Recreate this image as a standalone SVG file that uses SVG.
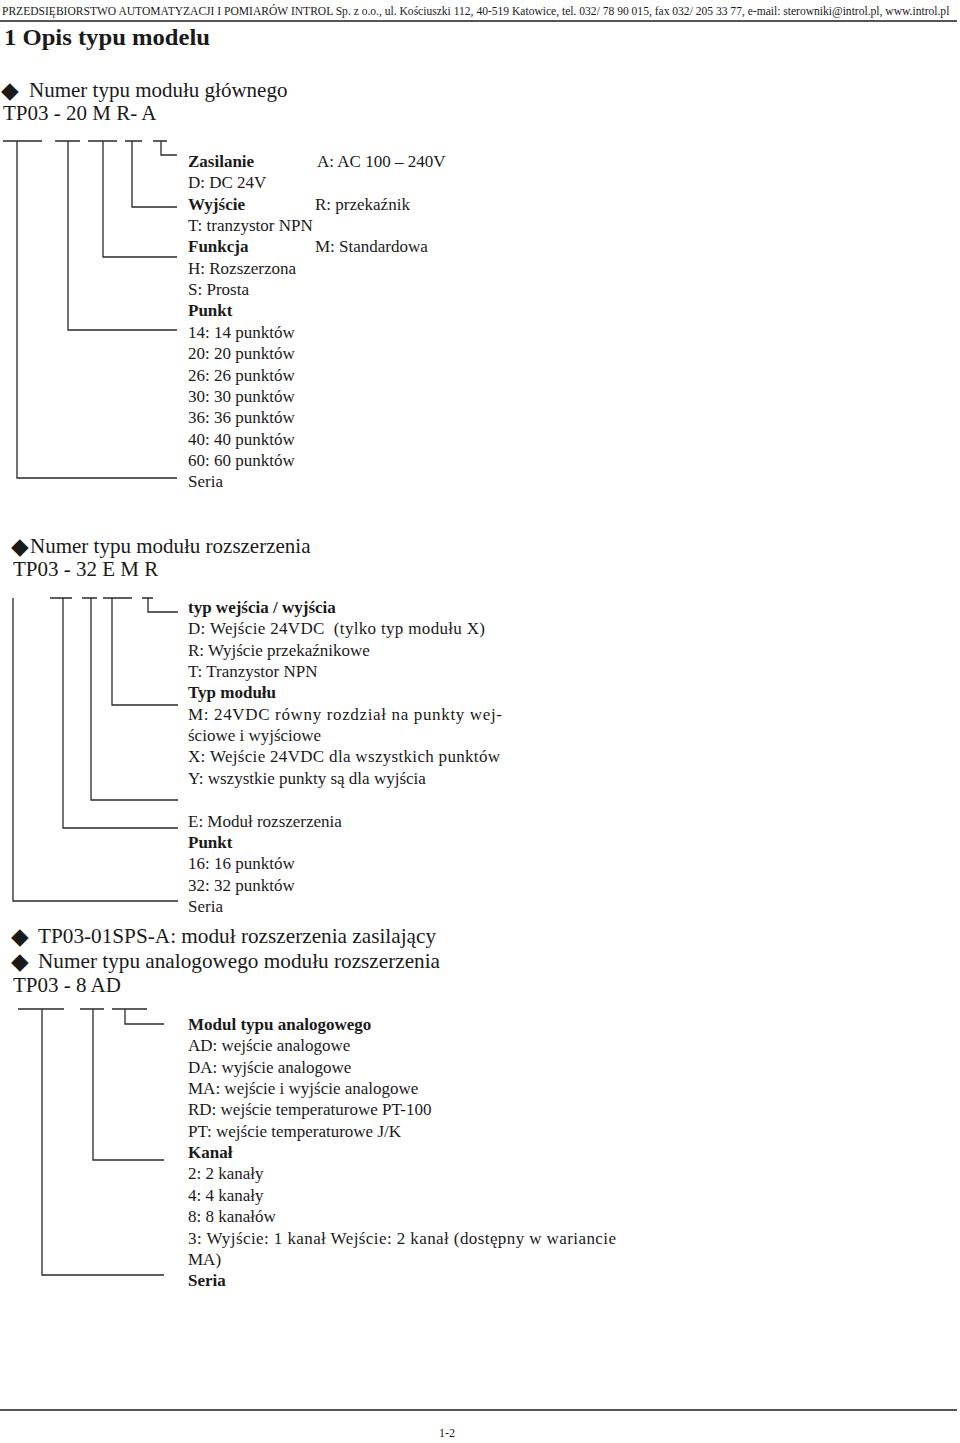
<svg xmlns="http://www.w3.org/2000/svg" width="960" height="1443" viewBox="0 0 960 1443">
<style>
text{font-family:"Liberation Serif","Times New Roman",serif;fill:#1a1a1a;}
.t{font-size:17px;}
.b{font-weight:bold;}
.h{font-size:21px;}
.hd{font-size:11.55px;}
.d{font-family:"DejaVu Sans",sans-serif;font-size:23px;}
.ln{stroke:#2a2a2a;stroke-width:1.3;fill:none;}
.rule{stroke:#555;stroke-width:2;}
</style>
<rect width="960" height="1443" fill="#fff"/>
<g id="header">
<text x="2" y="14.5" class="hd">PRZEDSIĘBIORSTWO AUTOMATYZACJI I POMIARÓW INTROL Sp. z o.o., ul. Kościuszki 112, 40-519 Katowice, tel. 032/ 78 90 015, fax 032/ 205 33 77, e-mail: sterowniki@introl.pl, www.introl.pl</text>
<line class="rule" x1="0" y1="21" x2="957" y2="21"/>
<text x="4" y="45" font-size="23" class="b" textLength="206" lengthAdjust="spacingAndGlyphs">1 Opis typu modelu</text>
</g>
<g id="section1-heading">
<text x="1" y="98" class="d">◆</text>
<text x="29" y="97" class="h">Numer typu modułu głównego</text>
<text x="3" y="120" class="h">TP03 - 20 M R- A</text>
</g>
<g id="connectors">
<g id="conn1">
<path class="ln" d="M3 141H42M55 141H80M88 141H117M125 141H142M153 141H167"/>
<path class="ln" d="M161 141V155H177"/>
<path class="ln" d="M132 141V207H177"/>
<path class="ln" d="M103 141V257H177"/>
<path class="ln" d="M68 141V330H177"/>
<path class="ln" d="M17 141V478H177"/>
</g>
<g id="conn2">
<path class="ln" d="M50 598H72M82 598H97M103 598H132M142 598H153"/>
<path class="ln" d="M148 598V612H178"/>
<path class="ln" d="M112 598V705H178"/>
<path class="ln" d="M91 598V800H178"/>
<path class="ln" d="M63 598V828H178"/>
<path class="ln" d="M13 598V901H178"/>
</g>
<g id="conn3">
<path class="ln" d="M18 1009H64M80 1009H104M112 1009H147"/>
<path class="ln" d="M125 1009V1024H164"/>
<path class="ln" d="M93 1009V1160H164"/>
<path class="ln" d="M42 1009V1275H164"/>
</g>
</g>
<g id="section1-labels" class="t">
<g id="zasilanie"><text x="188" y="167" class="b">Zasilanie</text><text x="317" y="167">A: AC 100 – 240V</text><text x="188" y="188.35">D: DC 24V</text></g>
<g id="wyjscie"><text x="188" y="209.7" class="b">Wyjście</text><text x="315" y="209.7">R: przekaźnik</text><text x="188" y="231.05">T: tranzystor NPN</text></g>
<g id="funkcja"><text x="188" y="252.4" class="b">Funkcja</text><text x="315" y="252.4">M: Standardowa</text><text x="188" y="273.75">H: Rozszerzona</text><text x="188" y="295.1">S: Prosta</text></g>
<g id="punkt1"><text x="188" y="316.45" class="b">Punkt</text>
<text x="188" y="337.8">14: 14 punktów</text>
<text x="188" y="359.15">20: 20 punktów</text>
<text x="188" y="380.5">26: 26 punktów</text>
<text x="188" y="401.85">30: 30 punktów</text>
<text x="188" y="423.2">36: 36 punktów</text>
<text x="188" y="444.55">40: 40 punktów</text>
<text x="188" y="465.9">60: 60 punktów</text></g>
<g id="seria1"><text x="188" y="487.25">Seria</text></g>
</g>
<g id="section2-heading">
<text x="11" y="554" class="d">◆</text>
<text x="30" y="553" class="h">Numer typu modułu rozszerzenia</text>
<text x="13" y="576" class="h">TP03 - 32 E M R</text>
</g>
<g id="section2-labels" class="t">
<g id="io-type"><text x="188" y="613" class="b">typ wejścia / wyjścia</text>
<text x="188" y="634.35" xml:space="preserve" textLength="297" lengthAdjust="spacing">D: Wejście 24VDC  (tylko typ modułu X)</text>
<text x="188" y="655.7">R: Wyjście przekaźnikowe</text>
<text x="188" y="677.05">T: Tranzystor NPN</text></g>
<g id="module-type"><text x="188" y="698.4" class="b">Typ modułu</text>
<text x="188" y="719.75" textLength="314" lengthAdjust="spacing">M: 24VDC równy rozdział na punkty wej-</text>
<text x="188" y="741.1">ściowe i wyjściowe</text>
<text x="188" y="762.45" textLength="312" lengthAdjust="spacing">X: Wejście 24VDC dla wszystkich punktów</text>
<text x="188" y="783.8">Y: wszystkie punkty są dla wyjścia</text></g>
<g id="ext"><text x="188" y="826.5">E: Moduł rozszerzenia</text></g>
<g id="punkt2"><text x="188" y="847.85" class="b">Punkt</text>
<text x="188" y="869.2">16: 16 punktów</text>
<text x="188" y="890.55">32: 32 punktów</text></g>
<g id="seria2"><text x="188" y="911.9">Seria</text></g>
</g>
<g id="section3-heading">
<text x="11" y="944" class="d">◆</text>
<text x="38" y="943" class="h" textLength="398" lengthAdjust="spacingAndGlyphs">TP03-01SPS-A: moduł rozszerzenia zasilający</text>
<text x="11" y="969" class="d">◆</text>
<text x="38" y="968" class="h" textLength="402" lengthAdjust="spacingAndGlyphs">Numer typu analogowego modułu rozszerzenia</text>
<text x="13" y="992" class="h">TP03 - 8 AD</text>
</g>
<g id="section3-labels" class="t">
<g id="analog-type"><text x="188" y="1030" class="b">Modul typu analogowego</text>
<text x="188" y="1051.35">AD: wejście analogowe</text>
<text x="188" y="1072.7">DA: wyjście analogowe</text>
<text x="188" y="1094.05">MA: wejście i wyjście analogowe</text>
<text x="188" y="1115.4">RD: wejście temperaturowe PT-100</text>
<text x="188" y="1136.75">PT: wejście temperaturowe J/K</text></g>
<g id="kanal"><text x="188" y="1158.1" class="b">Kanał</text>
<text x="188" y="1179.45">2: 2 kanały</text>
<text x="188" y="1200.8">4: 4 kanały</text>
<text x="188" y="1222.15">8: 8 kanałów</text>
<text x="188" y="1243.5" textLength="428" lengthAdjust="spacing">3: Wyjście: 1 kanał Wejście: 2 kanał (dostępny w wariancie</text>
<text x="188" y="1264.85">MA)</text></g>
<g id="seria3"><text x="188" y="1286.2" class="b">Seria</text></g>
</g>
<g id="footer">
<line class="rule" x1="0" y1="1410" x2="957" y2="1410"/>
<text x="447" y="1437" font-size="12" text-anchor="middle">1-2</text>
</g>
</svg>
